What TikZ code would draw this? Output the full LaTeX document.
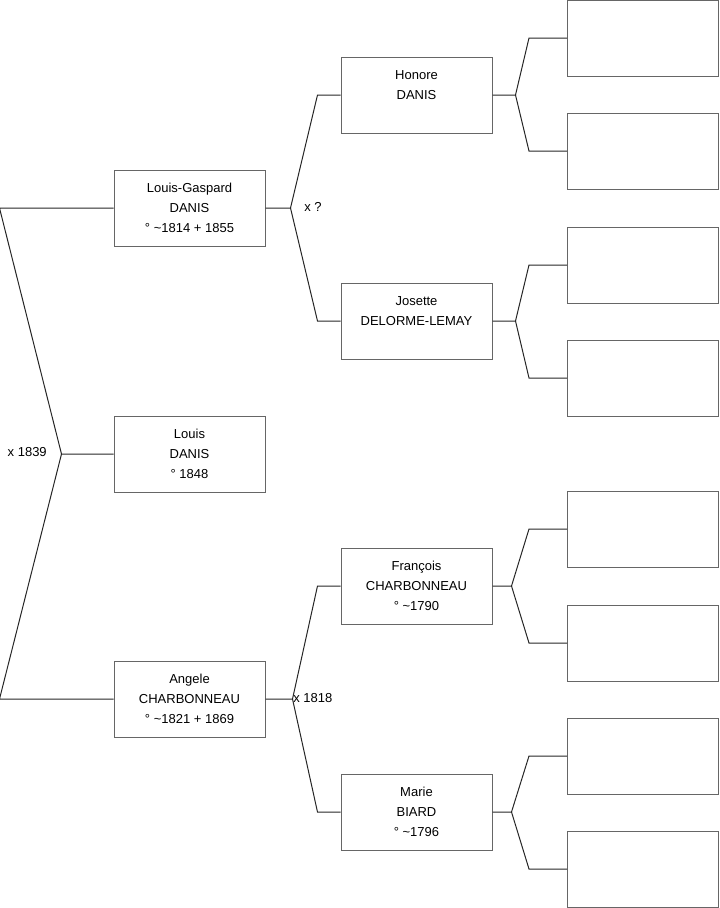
\documentclass[tikz,border=0pt]{standalone}
\usepackage{fontspec}
\setmainfont{Liberation Sans}
\usetikzlibrary{positioning}

\begin{document}
\begin{tikzpicture}[x=0.75pt, y=-0.75pt,
  every node/.style={font=\fontsize{9.75}{15}\selectfont},
  person/.style={draw=black!60, line width=0.75pt, minimum width=113.25pt, minimum height=57pt, inner sep=0pt, align=center},
  blank/.style={draw=black!60, line width=0.75pt, minimum width=113.25pt, minimum height=57pt, inner sep=0pt},
  link/.style={draw=black!85, line width=0.75pt}]
  \useasboundingbox (0,0) rectangle (719,908);

  % generation 1 and 2
  \node[person] (lg) at (189.5,208) {Louis-Gaspard\\DANIS\\° \textasciitilde1814 + 1855};
  \node[person] (lo) at (189.5,454) {Louis\\DANIS\\° 1848};
  \node[person] (ag) at (189.5,699) {Angele\\CHARBONNEAU\\° \textasciitilde1821 + 1869};

  % generation 3
  \node[person] (ho) at (416.5,95) {Honore\\DANIS\\\phantom{1}};
  \node[person] (jo) at (416.5,321) {Josette\\DELORME-LEMAY\\\phantom{1}};
  \node[person] (fr) at (416.5,586) {François\\CHARBONNEAU\\° \textasciitilde1790};
  \node[person] (ma) at (416.5,812) {Marie\\BIARD\\° \textasciitilde1796};

  % generation 4, empty
  \foreach \y [count=\i] in {38,151,265,378,529,643,756,869}
    \node[blank] (b\i) at (643,\y) {};

  % parents of Louis
  \path (lo.west) -- ++(-52,0) coordinate (klo);
  \draw[link] (lg.west) -- ++(-114,0) -- (klo) -- (lo.west);
  \draw[link] (ag.west) -- ++(-114,0) -- (klo);
  \node[left, inner sep=0pt] (wlo) at (47,452) {x 1839};

  % parents of Louis-Gaspard
  \path (lg.east) -- ++(25,0) coordinate (klg);
  \draw[link] (ho.west) -- ++(-23,0) -- (klg) -- (lg.east);
  \draw[link] (jo.west) -- ++(-23,0) -- (klg);
  \node[right, inner sep=0pt] (wlg) at (304,207) {x ?};

  % parents of Angele
  \path (ag.east) -- ++(27,0) coordinate (kag);
  \draw[link] (fr.west) -- ++(-23,0) -- (kag) -- (ag.east);
  \draw[link] (ma.west) -- ++(-23,0) -- (kag);
  \node[right, inner sep=0pt] (wag) at (293,698) {x 1818};

  % empty grandparents
  \foreach \p/\a/\b/\d in {ho/1/2/23, jo/3/4/23, fr/5/6/19, ma/7/8/19} {
    \path (\p.east) -- ++(\d,0) coordinate (k\p);
    \draw[link] (b\a.west) -- ++(-38,0) -- (k\p) -- (\p.east);
    \draw[link] (b\b.west) -- ++(-38,0) -- (k\p);
  }
\end{tikzpicture}
\end{document}
